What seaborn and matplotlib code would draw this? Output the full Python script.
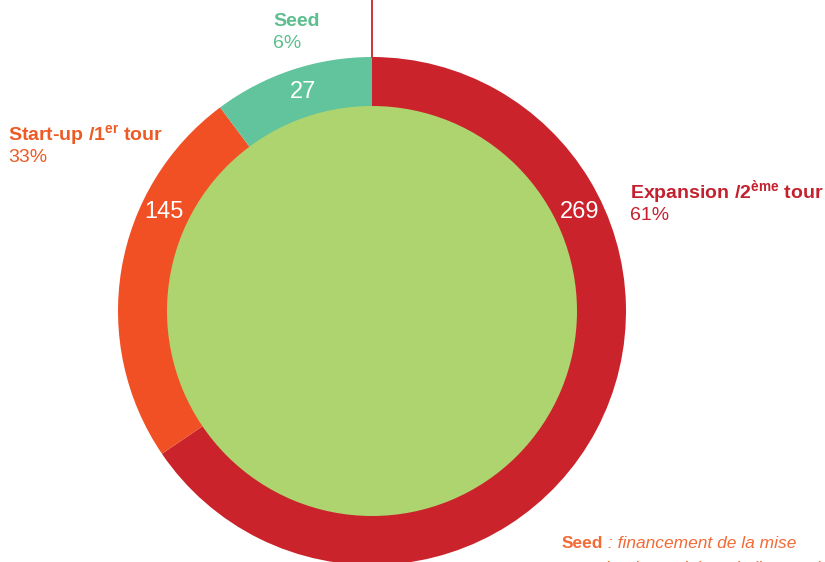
import numpy as np
import matplotlib
matplotlib.use("Agg")
import matplotlib.pyplot as plt
import seaborn as sns

# data
stages = ["Expansion /2ème tour", "Start-up /1er tour", "Seed"]
stage_tex = [r"Expansion /2$^{\mathregular{ème}}$ tour",
             r"Start-up /1$^{\mathregular{er}}$ tour",
             "Seed"]
counts = [269, 145, 27]
percent_text = ["61%", "33%", "6%"]
# share of the ring as it is drawn in the picture (not proportional to counts)
ring_share = [65.5, 24.3, 10.2]

ring_colors = ["#CB232B", "#F15024", "#61C49C"]
text_colors = ["#C4202E", "#EE5A24", "#5DBE8F"]
inner_color = "#ADD46F"

sns.set_theme(style="white")
plt.rcParams["font.family"] = ["Liberation Sans", "DejaVu Sans"]

W, H = 825, 562
fig = plt.figure(figsize=(W / 100, H / 100), dpi=100)
ax = fig.add_axes([0, 0, 1, 1])

cx, cy = 372, H - 311
r_out, r_in = 254, 205

ax.pie(ring_share, colors=ring_colors, startangle=90, counterclock=False,
       radius=r_out, center=(cx, cy),
       wedgeprops=dict(width=r_out - r_in + 2, linewidth=0))
ax.pie([1], colors=[inner_color], radius=r_in, center=(cx, cy),
       wedgeprops=dict(linewidth=0))
ax.set_xlim(0, W)
ax.set_ylim(0, H)
ax.set_aspect("equal")
ax.axis("off")

# leader line at the top
ax.plot([cx, cx], [H - 57, H], color="#CB232B", lw=1.3)

# white counts on the ring
label_angle = [25.5, 154.5, 107.5]
for n, a in zip(counts, label_angle):
    t = np.deg2rad(a)
    ax.text(cx + 230 * np.cos(t), cy + 230 * np.sin(t), str(n),
            color="white", fontsize=17, ha="center", va="center")

# category labels (x, y of top line in pixels)
label_pos = [(630, 193), (8, 136), (273, 22)]
for lab, pct, col, (px, py) in zip(stage_tex, percent_text, text_colors, label_pos):
    ax.text(px, H - py, lab, color=col, fontsize=14, fontweight="bold",
            ha="left", va="center")
    ax.text(px, H - py - 22, pct, color=col, fontsize=14,
            ha="left", va="center")

# footnote (cut off at the bottom in the reference)
note_col = "#F26A35"
t1 = ax.text(562, H - 543, "Seed", color=note_col, fontsize=12.5,
             fontweight="bold", ha="left", va="center")
ax.annotate(" : financement de la mise", xy=(1, 0.5), xycoords=t1,
            color=note_col, fontsize=12.5, style="italic",
            ha="left", va="center")
ax.text(562, H - 569, "au point du produit et de l'entreprise", color=note_col,
        fontsize=12.5, style="italic", ha="left", va="center")

fig.savefig("out.png", dpi=100)
